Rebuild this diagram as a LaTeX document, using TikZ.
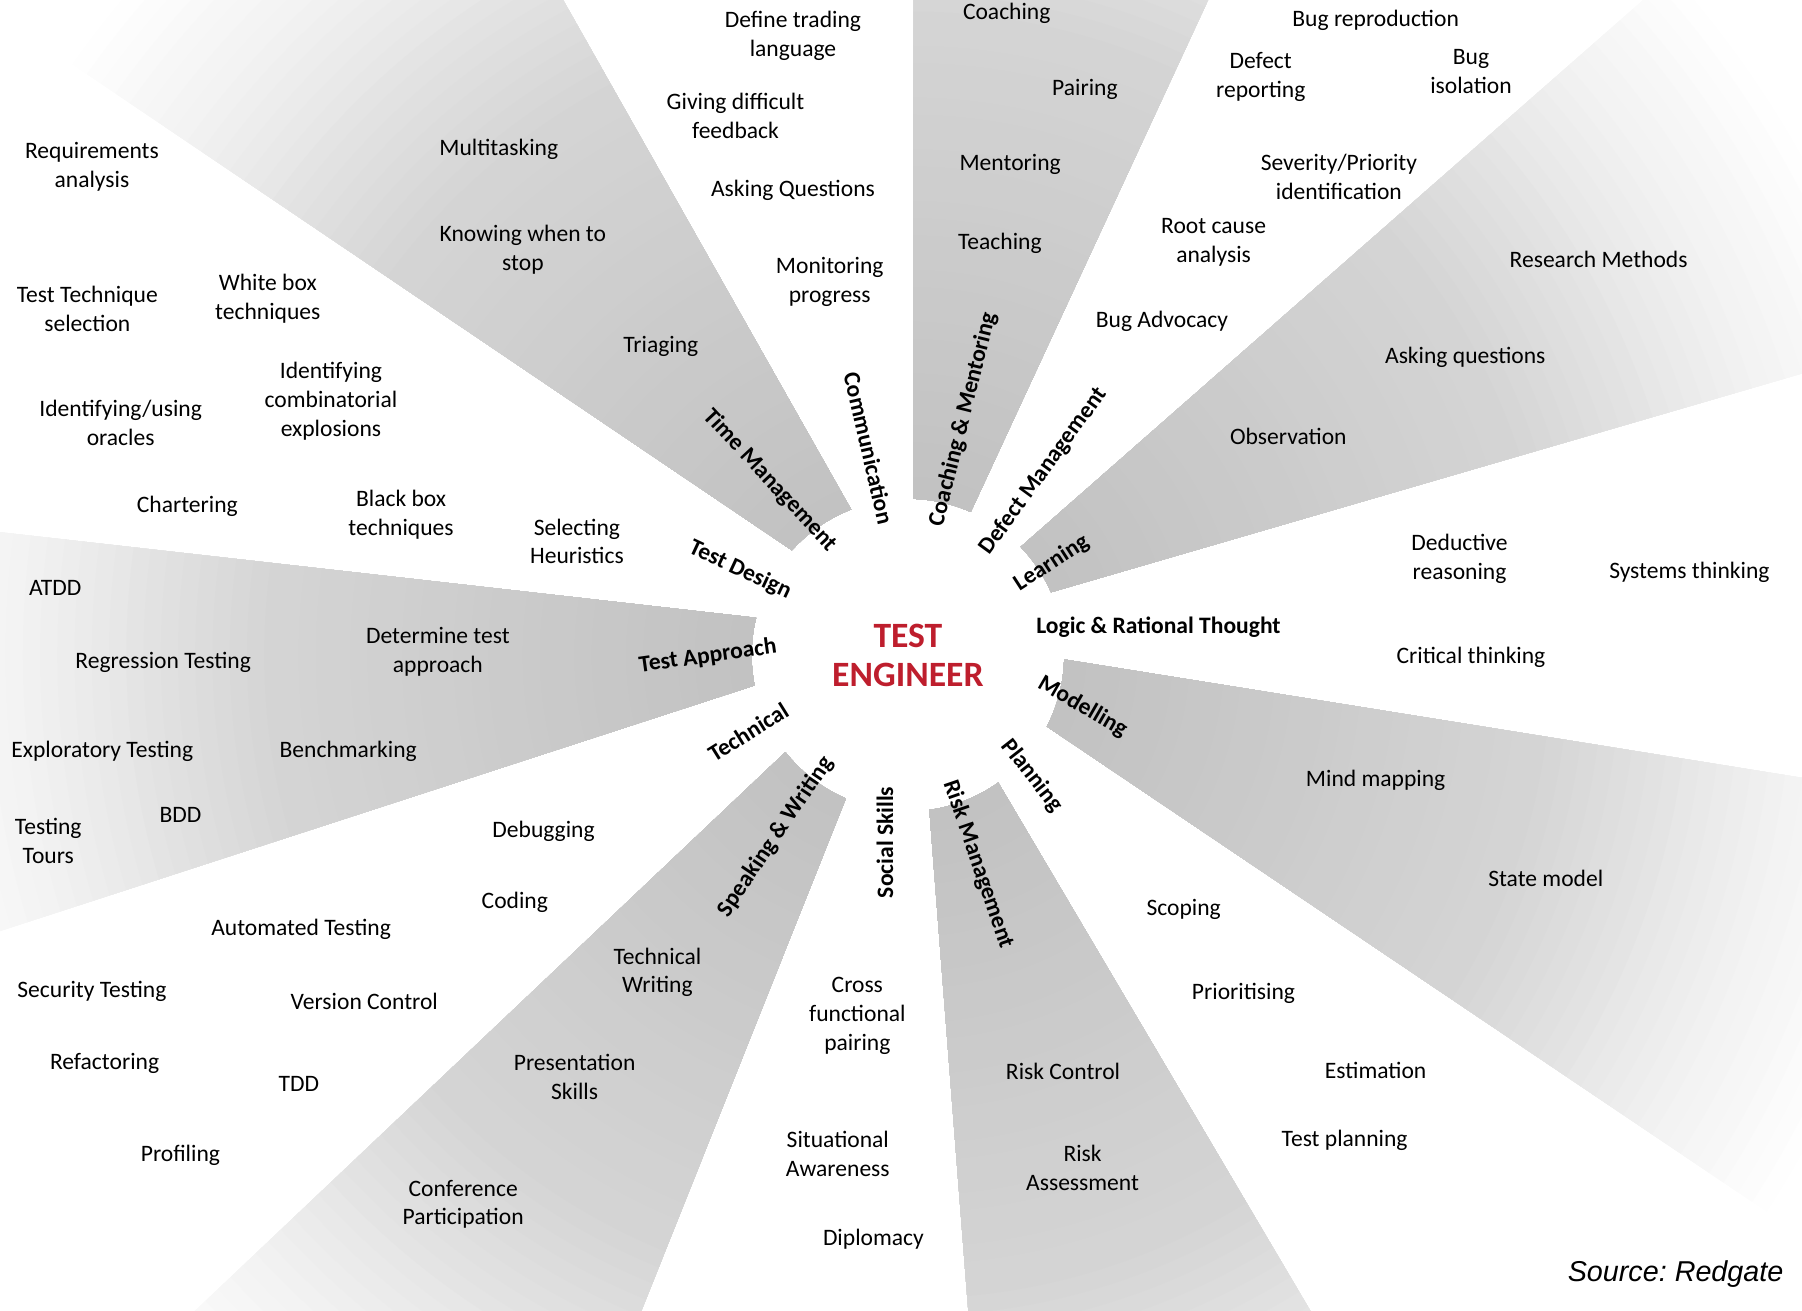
\documentclass[tikz,border=0pt]{standalone}
\usepackage{fontspec}
\setmainfont{Carlito}
\newfontfamily\srcfont{Liberation Sans}
\usetikzlibrary{calc}
\definecolor{engred}{RGB}{190,30,45}

\begin{document}
\begin{tikzpicture}[x=1pt,y=-1pt,
  skill/.style={align=center,inner sep=1pt,font=\fontsize{20.5}{25}\selectfont},
  area/.style={inner sep=1pt,font=\bfseries\fontsize{20.5}{25}\selectfont},
  core/.style={align=center,text=engred,font=\bfseries\fontsize{31}{34}\selectfont}]
  \useasboundingbox (0,0) rectangle (1568,1140);
  \clip (0,0) rectangle (1568,1140);
  \coordinate (ctr) at (790,570);
  % far ends of the grey wedges
  \coordinate (tmR) at (239,-444);  \coordinate (tmL) at (-729,-479);
  \coordinate (cmL) at (795,-436);  \coordinate (cmR) at (1259,-448);
  \coordinate (lnU) at (1974,-478); \coordinate (lnD) at (2224,134);
  \coordinate (moU) at (2212,780);  \coordinate (moD) at (2224,1517);
  \coordinate (rmR) at (1410,1597); \coordinate (rmL) at (876,1572);
  \coordinate (swR) at (382,1582);  \coordinate (swL) at (-340,1623);
  \coordinate (taD) at (-654,1023); \coordinate (taU) at (-654,389);
  % wedges, grey fading out to white
  \foreach \p/\s/\e/\q in {tmR/-111.3/-137.9/tmL, cmL/-87.9/-66.3/cmR,
      lnU/-43.8/-23.7/lnD, moU/1.6/27.2/moD, rmR/54.7/82.1/rmL,
      swR/113.4/141.6/swL, taD/168.8/193.8/taU}{
    \begin{scope}
      \clip (\p) -- ($(ctr)+(\s:136)$) arc[start angle=\s,end angle=\e,radius=136] -- (\q) -- cycle;
      \foreach \r in {950,935,...,125}{
        \pgfmathsetmacro\pc{\r<150 ? 48 : (\r<570 ? 48-15*(\r-150)/420 : (\r<760 ? 33-21*(\r-570)/190 : max(0,12-12*(\r-760)/140)))}
        \fill[gray!\pc] (ctr) circle (\r);}
    \end{scope}}

  \node[core] (eng) at (ctr) {TEST\\ENGINEER};

  % skill areas round the centre
  \node[area,rotate=-47] (tmgmt) at (670,418) {Time Management};
  \node[area,rotate=-77] (comm) at (756,390) {Communication};
  \node[area,rotate=76] (coachm) at (838,365) {Coaching \& Mentoring};
  \node[area,rotate=54] (defm) at (908,410) {Defect Management};
  \node[area,rotate=33] (learn) at (915,490) {Learning};
  \node[area] (logic) at (1008,546) {Logic \& Rational Thought};
  \node[area,rotate=-30] (model) at (942,615) {Modelling};
  \node[area,rotate=-52] (plan) at (898,675) {Planning};
  \node[area,rotate=-71] (riskm) at (851,752) {Risk Management};
  \node[area,rotate=90] (social) at (770,733) {Social Skills};
  \node[area,rotate=56] (speak) at (675,728) {Speaking \& Writing};
  \node[area,rotate=32] (tech) at (651,637) {Technical};
  \node[area,rotate=8] (tappr) at (616,571) {Test Approach};
  \node[area,rotate=-25] (tdes) at (644,496) {Test Design};

  % Test Design
  \node[skill] (reqs) at (80,145) {Requirements\\analysis};
  \node[skill] (ttsel) at (76,269) {Test Technique\\selection};
  \node[skill] (wbox) at (233,260) {White box\\techniques};
  \node[skill] (combi) at (288,349) {Identifying\\combinatorial\\explosions};
  \node[skill] (oracle) at (105,368) {Identifying/using\\oracles};
  \node[skill] (charter) at (163,441) {Chartering};
  \node[skill] (bbox) at (349,448) {Black box\\techniques};
  \node[skill] (heur) at (502,471) {Selecting\\Heuristics};
  % Time Management
  \node[skill] (multi) at (434,130) {Multitasking};
  \node[skill] (stop) at (455,217) {Knowing when to\\stop};
  \node[skill] (triage) at (575,301) {Triaging};
  % Communication
  \node[skill] (lang) at (690,31) {Define trading\\language};
  \node[skill] (feedb) at (640,101) {Giving difficult\\feedback};
  \node[skill] (askQ) at (690,166) {Asking Questions};
  \node[skill] (monit) at (722,245) {Monitoring\\progress};
  % Coaching & Mentoring
  \node[skill] (coach) at (876,12) {Coaching};
  \node[skill] (pair) at (944,78) {Pairing};
  \node[skill] (mentor) at (879,143) {Mentoring};
  \node[skill] (teach) at (870,212) {Teaching};
  % Defect Management
  \node[skill] (repro) at (1197,18) {Bug reproduction};
  \node[skill] (report) at (1097,67) {Defect\\reporting};
  \node[skill] (isol) at (1280,62) {Bug\\isolation};
  \node[skill] (sever) at (1165,154) {Severity/Priority\\identification};
  \node[skill] (root) at (1056,211) {Root cause\\analysis};
  \node[skill] (advoc) at (1011,280) {Bug Advocacy};
  % Learning
  \node[skill] (resm) at (1391,226) {Research Methods};
  \node[skill] (askq) at (1275,311) {Asking questions};
  \node[skill] (obs) at (1121,380) {Observation};
  % Logic & Rational Thought
  \node[skill] (deduc) at (1270,486) {Deductive\\reasoning};
  \node[skill] (systh) at (1470,498) {Systems thinking};
  \node[skill] (crit) at (1280,572) {Critical thinking};
  % Modelling
  \node[skill] (mind) at (1197,679) {Mind mapping};
  \node[skill] (state) at (1345,764) {State model};
  % Planning
  \node[skill] (scope) at (1030,791) {Scoping};
  \node[skill] (prio) at (1082,864) {Prioritising};
  \node[skill] (estim) at (1197,931) {Estimation};
  \node[skill] (tplan) at (1170,992) {Test planning};
  % Risk Management
  \node[skill] (rctrl) at (925,932) {Risk Control};
  \node[skill] (rass) at (942,1016) {Risk\\Assessment};
  % Social Skills
  \node[skill] (cross) at (746,884) {Cross\\functional\\pairing};
  \node[skill] (situ) at (729,1004) {Situational\\Awareness};
  \node[skill] (diplo) at (760,1078) {Diplomacy};
  % Speaking & Writing
  \node[skill] (twrit) at (572,846) {Technical\\Writing};
  \node[skill] (pres) at (500,937) {Presentation\\Skills};
  \node[skill] (conf) at (403,1048) {Conference\\Participation};
  % Technical
  \node[skill] (debug) at (473,723) {Debugging};
  \node[skill] (code) at (448,785) {Coding};
  \node[skill] (auto) at (262,809) {Automated Testing};
  \node[skill] (secur) at (80,863) {Security Testing};
  \node[skill] (vcs) at (317,871) {Version Control};
  \node[skill] (refac) at (91,925) {Refactoring};
  \node[skill] (tdd) at (260,943) {TDD};
  \node[skill] (prof) at (157,1005) {Profiling};
  % Test Approach
  \node[skill] (atdd) at (48,512) {ATDD};
  \node[skill] (regr) at (142,576) {Regression Testing};
  \node[skill] (detapp) at (381,567) {Determine test\\approach};
  \node[skill] (explo) at (89,654) {Exploratory Testing};
  \node[skill] (bench) at (303,654) {Benchmarking};
  \node[skill] (bdd) at (157,709) {BDD};
  \node[skill] (tours) at (42,732) {Testing\\Tours};

  \node[font=\srcfont\itshape\fontsize{25}{30}\selectfont] (src) at (1458,1109) {Source:\ Redgate};
\end{tikzpicture}
\end{document}
